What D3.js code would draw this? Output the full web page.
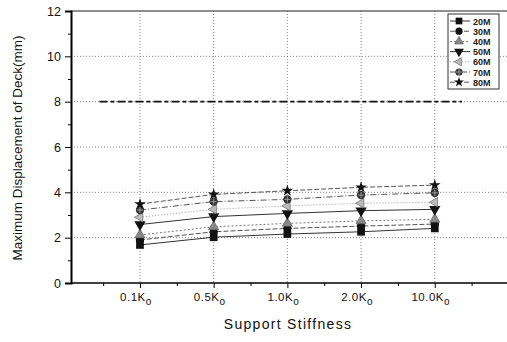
<!DOCTYPE html>
<html><head><meta charset="utf-8">
<script src="https://cdn.jsdelivr.net/npm/d3@7"></script>
<style>body{margin:0;background:#fff}svg{display:block;font-family:"Liberation Sans",Arial,sans-serif}</style>
</head><body>
<svg id="c" width="507" height="342"></svg>
<script>
const categories = ["0.1K", "0.5K", "1.0K", "2.0K", "10.0K"];
const seriesNames = ["20M", "30M", "40M", "50M", "60M", "70M", "80M"];
const s20 = [1.68, 2.02, 2.16, 2.26, 2.41];
const s30 = [1.90, 2.26, 2.41, 2.51, 2.60];
const s40 = [2.12, 2.48, 2.63, 2.74, 2.81];
const s50 = [2.58, 2.93, 3.07, 3.19, 3.25];
const s60 = [2.90, 3.25, 3.40, 3.52, 3.56];
const s70 = [3.22, 3.59, 3.69, 3.88, 3.98];
const s80 = [3.48, 3.91, 4.07, 4.22, 4.32];
const seriesValues = [s20, s30, s40, s50, s60, s70, s80];
const yTicks = [0, 2, 4, 6, 8, 10, 12];
const limitValue = 8;
const limitRange = [0.45, 5.37];

const svg = d3.select("#c");
const L = 71, R = 507, T = 11, B = 283;
const x = d3.scaleLinear().domain([0.064, 5.98]).range([L, R]);
const y = d3.scaleLinear().domain([0, 12]).range([B, T]);
const pos = i => i + 1;

// gridlines
const g = svg.append("g");
g.selectAll(".hg").data([2,4,6,8,10]).join("line")
  .attr("x1", L).attr("x2", R).attr("y1", d => y(d)).attr("y2", d => y(d))
  .attr("stroke", "#666").attr("stroke-width", 0.8).attr("stroke-dasharray", "1,2");
g.selectAll(".vg").data(categories).join("line")
  .attr("x1", (d,i) => x(pos(i))).attr("x2", (d,i) => x(pos(i))).attr("y1", T).attr("y2", B)
  .attr("stroke", "#666").attr("stroke-width", 0.8).attr("stroke-dasharray", "1,2");

// top border
svg.append("line").attr("x1", L).attr("x2", R).attr("y1", T).attr("y2", T).attr("stroke", "#222").attr("stroke-width", 1);

// limit line
svg.append("line").attr("x1", x(limitRange[0])).attr("x2", x(limitRange[1]))
  .attr("y1", y(limitValue)).attr("y2", y(limitValue))
  .attr("stroke", "#111").attr("stroke-width", 1.8).attr("stroke-dasharray", "8,3,4,3");

// axes
const yAxis = d3.axisLeft(y).tickValues(yTicks).tickSize(6).tickPadding(4).tickFormat(d3.format("d"));
const yg = svg.append("g").attr("transform", `translate(${L},0)`).call(yAxis);
yg.select(".domain").attr("stroke-width", 2);
yg.selectAll("text").attr("font-size", 12.5).attr("fill", "#111");
const yMinor = d3.axisLeft(y).tickValues([1,3,5,7,9,11]).tickSize(3).tickFormat("");
svg.append("g").attr("transform", `translate(${L},0)`).call(yMinor).select(".domain").remove();

const xAxis = d3.axisBottom(x).tickValues(categories.map((d,i) => pos(i))).tickSize(5).tickFormat("");
const xg = svg.append("g").attr("transform", `translate(0,${B})`).call(xAxis);
xg.select(".domain").attr("stroke-width", 1.5).attr("d", `M${L},0H${R}`);
const xMinor = d3.axisBottom(x).tickValues([0.5,1.5,2.5,3.5,4.5,5.5]).tickSize(3).tickFormat("");
svg.append("g").attr("transform", `translate(0,${B})`).call(xMinor).select(".domain").remove();

// x tick labels with subscript
const xl = svg.append("g");
categories.forEach((c, i) => {
  const t = xl.append("text").attr("x", x(pos(i)) - 4).attr("y", 301).attr("text-anchor", "middle")
    .attr("font-size", 11.5).attr("fill", "#111").attr("letter-spacing", 0.5);
  t.append("tspan").text(c);
  t.append("tspan").attr("dy", 4).attr("font-size", 10).text("o");
});

// titles
svg.append("text").attr("x", 288).attr("y", 329).attr("text-anchor", "middle")
  .attr("font-size", 14).attr("letter-spacing", 1.3).attr("fill", "#111").text("Support Stiffness");
svg.append("text").attr("transform", "translate(22,148) rotate(-90)").attr("text-anchor", "middle")
  .attr("font-size", 13.5).attr("fill", "#111").text("Maximum Displacement of Deck(mm)");

// series styles
const dashes = [null, "5,2", "2,2", null, "1,2", "6,2,1,2", "5,2"];
const lineColors = ["#333", "#555", "#777", "#333", "#999", "#555", "#555"];
function marker(sel, k, cx, cy, s) {
  const sym = [d3.symbolSquare, d3.symbolCircle, d3.symbolTriangle, d3.symbolTriangle, d3.symbolTriangle, d3.symbolCircle, d3.symbolStar][k];
  const size = [60, 55, 45, 55, 40, 55, 42][k] * s;
  const rot = [0, 0, 0, 180, -90, 0, 0][k];
  const fill = ["#111", "#111", "#888", "#111", "#bbb", "#333", "#111"][k];
  sel.append("path").attr("d", d3.symbol(sym, size)())
    .attr("transform", `translate(${cx},${cy}) rotate(${rot})`)
    .attr("fill", fill).attr("stroke", k === 2 || k === 4 ? "#555" : "none").attr("stroke-width", 0.6);
  if (k === 5) {
    sel.append("path").attr("d", `M${cx-3},${cy}H${cx+3}M${cx},${cy-3}V${cy+3}`).attr("stroke", "#999").attr("stroke-width", 1);
  }
}

const line = d3.line().x((d,i) => x(pos(i))).y(d => y(d));
const sg = svg.append("g");
seriesValues.forEach((vals, k) => {
  sg.append("path").attr("d", line(vals)).attr("fill", "none")
    .attr("stroke", lineColors[k]).attr("stroke-width", 1)
    .attr("stroke-dasharray", dashes[k]);
});
seriesValues.forEach((vals, k) => {
  vals.forEach((v, i) => marker(sg, k, x(pos(i)), y(v), 1));
});

// legend
const lg = svg.append("g");
lg.append("rect").attr("x", 448).attr("y", 14).attr("width", 51).attr("height", 75)
  .attr("fill", "#fff").attr("stroke", "#333").attr("stroke-width", 1);
seriesNames.forEach((n, k) => {
  const yy = 21 + k * 10.2;
  lg.append("line").attr("x1", 450).attr("x2", 470).attr("y1", yy).attr("y2", yy)
    .attr("stroke", lineColors[k]).attr("stroke-width", 1).attr("stroke-dasharray", dashes[k]);
  marker(lg, k, 459, yy, 0.75);
  lg.append("text").attr("x", 473).attr("y", yy + 3.5).attr("font-size", 9).attr("font-weight", "bold")
    .attr("fill", "#222").text(n);
});
</script>
</body></html>
